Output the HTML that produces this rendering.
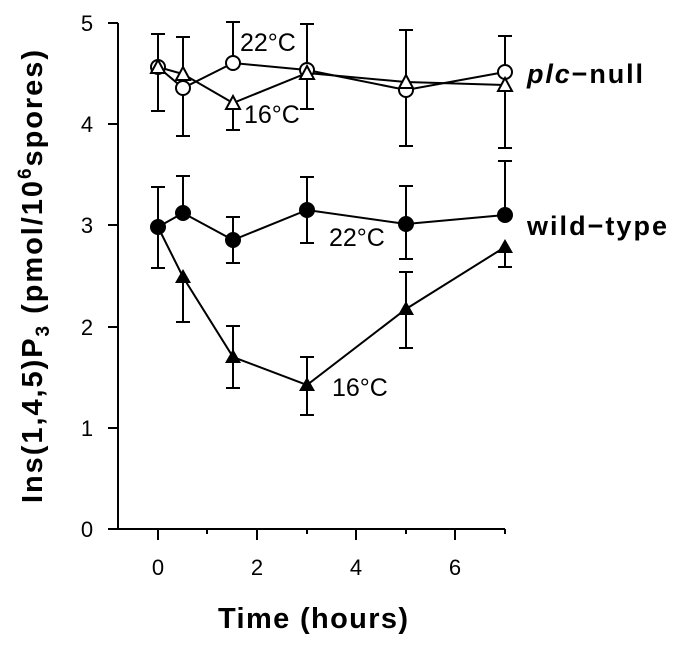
<!DOCTYPE html>
<html><head><meta charset="utf-8"><style>html,body{margin:0;padding:0;background:#fff}svg{display:block}</style></head>
<body>
<svg width="685" height="645" viewBox="0 0 685 645" xmlns="http://www.w3.org/2000/svg" font-family="Liberation Sans, Arial, sans-serif">
<g stroke="#000" stroke-width="2" fill="none">
<path d="M118 23 V529 M108 529 H505"/>
<path d="M108 23 H118 M108 124 H118 M108 225 H118 M108 327 H118 M108 428 H118"/>
<path d="M158 529 V540 M257 529 V540 M356 529 V540 M455 529 V540 M207 529 V534 M307 529 V534 M406 529 V534 M505 529 V534"/>
<g>
<path d="M158 34 V111 M151 34 H165 M151 111 H165"/>
<path d="M183 37 V136 M176 37 H190 M176 136 H190"/>
<path d="M233 22 V63 M226 22 H240"/>
<path d="M233 103 V130 M226 130 H240"/>
<path d="M307 24 V109 M300 24 H314 M300 109 H314"/>
<path d="M406 30 V146 M399 30 H413 M399 146 H413"/>
<path d="M505 36 V148 M498 36 H512 M498 148 H512"/>
<path d="M158 187 V268 M151 187 H165 M151 268 H165"/>
<path d="M183 176 V213 M176 176 H190"/>
<path d="M233 217 V263 M226 217 H240 M226 263 H240"/>
<path d="M307 177 V243 M300 177 H314 M300 243 H314"/>
<path d="M406 186 V259 M399 186 H413 M399 259 H413"/>
<path d="M505 161 V215 M498 161 H512"/>
<path d="M183 277 V322 M176 322 H190"/>
<path d="M233 326 V388 M226 326 H240 M226 388 H240"/>
<path d="M307 357 V415 M300 357 H314 M300 415 H314"/>
<path d="M406 272 V348 M399 272 H413 M399 348 H413"/>
<path d="M505 247 V267 M498 267 H512"/>
</g>
<polyline points="158,67 183,88 233,63 307,70 406,90 505,72"/>
<polyline points="158,67 183,74 233,103 307,73 406,82 505,85"/>
<polyline points="158,227 183,213 233,240 307,210 406,224 505,215"/>
<polyline points="158,227 183,277 233,357 307,385 406,309 505,247"/>
</g>
<g fill="#fff" stroke="#000" stroke-width="2">
<circle cx="158" cy="67" r="7"/><circle cx="183" cy="88" r="7"/><circle cx="233" cy="63" r="7"/><circle cx="307" cy="70" r="7"/><circle cx="406" cy="90" r="7"/><circle cx="505" cy="72" r="7"/>
<path d="M158 60 l7 13 h-14z M183 67 l7 13 h-14z M233 96 l7 13 h-14z M307 66 l7 13 h-14z M406 75 l7 13 h-14z M505 78 l7 13 h-14z"/>
</g>
<g fill="#000">
<circle cx="158" cy="227" r="8"/><circle cx="183" cy="213" r="8"/><circle cx="233" cy="240" r="8"/><circle cx="307" cy="210" r="8"/><circle cx="406" cy="224" r="8"/><circle cx="505" cy="215" r="8"/>
<path d="M183 269 l8 14 h-16z M233 349 l8 14 h-16z M307 377 l8 14 h-16z M406 301 l8 14 h-16z M505 239 l8 14 h-16z"/>
</g>
<g font-size="22" text-anchor="middle">
<text x="87" y="31">5</text><text x="87" y="132">4</text><text x="87" y="233">3</text><text x="87" y="335">2</text><text x="87" y="436">1</text><text x="87" y="537">0</text>
<text x="158" y="575">0</text><text x="257" y="575">2</text><text x="356" y="575">4</text><text x="455" y="575">6</text>
</g>
<text x="218" y="628" font-size="29" font-weight="bold" textLength="190" lengthAdjust="spacing">Time  (hours)</text>
<g font-size="25">
<text x="240" y="51">22°C</text>
<text x="244" y="123">16°C</text>
<text x="329" y="246">22°C</text>
<text x="332" y="396">16°C</text>
</g>
<text x="527" y="83" font-size="27" font-weight="bold" textLength="116" lengthAdjust="spacing"><tspan font-style="italic">plc</tspan>−null</text>
<text x="527" y="235" font-size="27" font-weight="bold" textLength="140" lengthAdjust="spacing">wild−type</text>
<text transform="translate(42 503) rotate(-90)" font-size="29" font-weight="bold" textLength="453" lengthAdjust="spacing">Ins(1,4,5)P<tspan font-size="19" dy="7">3</tspan><tspan dy="-7">  (pmol/10</tspan><tspan font-size="19" dy="-11">6</tspan><tspan dy="11">spores)</tspan></text>
</svg>
</body></html>
